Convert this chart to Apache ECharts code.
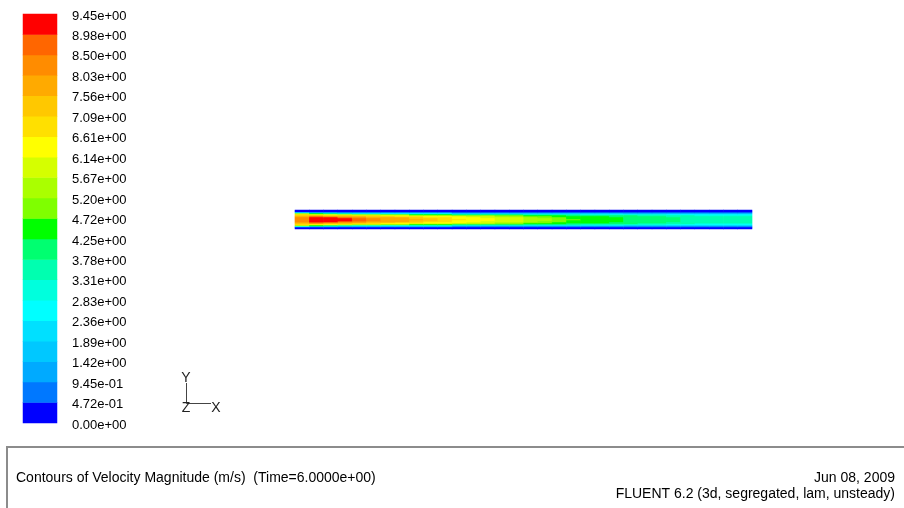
<!DOCTYPE html>
<html>
<head>
<meta charset="utf-8">
<script src="https://cdn.jsdelivr.net/npm/echarts@6/dist/echarts.min.js"></script>
<style>
  html, body { margin: 0; padding: 0; background: #fff; }
  #chart { width: 904px; height: 508px; }
</style>
</head>
<body>
<div id="chart"></div>
<script>
// contour levels (20 bands, 0 .. 9.45 m/s), colours listed from lowest band up
const vMax = 9.45
const levelColors = ['#0000ff', '#0078ff', '#00aaff', '#00c8ff', '#00e0ff',
  '#00ffff', '#00ffdd', '#00ffb0', '#00ff70', '#00ff00',
  '#7fff00', '#aaff00', '#d5ff00', '#ffff00', '#ffe000',
  '#ffc800', '#ffaa00', '#ff8c00', '#ff6600', '#ff0000']
const tickLabels = ['0.00e+00', '4.72e-01', '9.45e-01', '1.42e+00', '1.89e+00',
  '2.36e+00', '2.83e+00', '3.31e+00', '3.78e+00', '4.25e+00', '4.72e+00',
  '5.20e+00', '5.67e+00', '6.14e+00', '6.61e+00', '7.09e+00', '7.56e+00',
  '8.03e+00', '8.50e+00', '8.98e+00', '9.45e+00']

// velocity read along the pipe (32 columns, inlet -> outlet), one array per pixel row
// r0 = wall row ... r9 = centre line; pipe is symmetric about r9
const r0 = [0.2,0.2,0.2,0.2,0.2,0.2,0.2,0.2,0.2,0.2,0.2,0.2,0.2,0.2,0.2,0.2,0.2,0.2,0.2,0.2,0.2,0.2,0.2,0.2,0.2,0.2,0.2,0.2,0.2,0.2,0.2,0.2]
const r1 = [0.3,0.3,0.3,0.3,0.3,0.3,0.3,0.3,0.3,0.3,0.3,0.3,0.3,0.3,0.3,0.3,0.3,0.3,0.3,0.3,0.3,0.3,0.3,0.3,0.3,0.3,0.3,0.3,0.3,0.3,0.3,0.3]
const r2 = [2.5,1.6,1.5,1.4,1.3,1.2,1.1,1.1,1.0,1.0,1.0,0.9,0.9,0.9,0.9,0.9,0.8,0.8,0.8,0.8,0.8,0.8,0.8,0.8,0.7,0.7,0.7,0.7,0.7,0.7,0.7,0.7]
const r3 = [5.4,4.4,4.0,3.6,3.3,3.0,2.8,2.7,2.6,2.5,2.4,2.3,2.3,2.2,2.2,2.1,2.1,2.0,2.0,2.0,1.9,1.9,1.9,1.8,1.8,1.8,1.7,1.7,1.7,1.7,1.6,1.6]
const r4 = [7.0,6.5,6.2,5.8,5.5,5.2,5.0,4.8,4.6,4.5,4.4,4.2,4.1,4.0,3.9,3.8,3.7,3.6,3.5,3.4,3.3,3.2,3.1,3.0,2.9,2.9,2.8,2.8,2.7,2.7,2.7,2.6]
const r5 = [7.5,7.6,7.4,7.2,6.9,6.7,6.5,6.3,6.1,5.9,5.8,5.6,5.4,5.2,5.1,4.9,4.6,4.5,4.4,4.2,4.1,4.0,3.9,3.8,3.6,3.5,3.4,3.4,3.3,3.3,3.3,3.2]
const r6 = [7.9,8.6,8.4,8.0,7.7,7.4,7.2,7.0,6.8,6.6,6.4,6.2,6.0,5.8,5.6,5.4,5.1,4.9,4.7,4.6,4.5,4.4,4.2,4.1,3.9,3.8,3.7,3.6,3.6,3.5,3.5,3.5]
const r7 = [8.1,9.05,9.0,8.7,8.3,8.0,7.8,7.6,7.3,7.0,6.7,6.5,6.3,6.1,5.9,5.7,5.4,5.1,4.9,4.7,4.6,4.5,4.3,4.2,4.0,3.9,3.8,3.7,3.7,3.6,3.6,3.6]
const r8 = [8.3,9.3,9.25,9.0,8.6,8.2,7.9,7.7,7.5,7.2,6.9,6.6,6.4,6.2,6.0,5.8,5.5,5.2,4.9,4.7,4.6,4.5,4.3,4.2,4.0,3.9,3.8,3.75,3.7,3.7,3.65,3.6]
const r9 = [8.4,9.4,9.35,9.1,8.8,8.3,8.0,7.8,7.6,7.3,7.0,6.7,6.5,6.3,6.1,5.9,5.6,5.3,5.0,4.8,4.6,4.5,4.3,4.2,4.0,3.9,3.8,3.75,3.7,3.7,3.65,3.6]

const step = vMax / levelColors.length
const halfRows = [r0, r1, r2, r3, r4, r5, r6, r7, r8, r9]
const pipeRows = halfRows.concat(halfRows.slice(0, 9).reverse())

const pipeData = []
pipeRows.forEach((row, j) => {
  row.forEach((v, i) => { pipeData.push([i, j, v]) })
})
const barData = levelColors.map((c, k) => [0, k, (k + 0.5) * step])

const pieces = levelColors.map((c, k) => ({ min: k * step, max: (k + 1) * step, color: c }))

const font = 'Arial, "Liberation Sans", sans-serif'
const chart = echarts.init(document.getElementById('chart'), null, { renderer: 'canvas' })

const option = {
  backgroundColor: '#ffffff',
  animation: false,
  visualMap: {
    type: 'piecewise',
    show: false,
    pieces: pieces,
    seriesIndex: [0, 1],
    dimension: 2
  },
  grid: [
    { left: 295, top: 210, width: 457, height: 19, outerBoundsMode: 'none' },
    { left: 23, top: 14, width: 34, height: 409, outerBoundsMode: 'none' },
    // label scale sits a couple of pixels lower, as in the original key
    { left: 23, top: 16, width: 34, height: 409, outerBoundsMode: 'none' }
  ],
  xAxis: [
    { type: 'category', gridIndex: 0, data: r0.map((v, i) => i), show: false },
    { type: 'category', gridIndex: 1, data: ['c'], show: false },
    { type: 'category', gridIndex: 2, data: ['c'], show: false }
  ],
  yAxis: [
    { type: 'category', gridIndex: 0, data: pipeRows.map((r, j) => j), show: false },
    { type: 'category', gridIndex: 1, data: levelColors.map((c, k) => k), show: false },
    {
      type: 'value', gridIndex: 2, position: 'right',
      min: 0, max: vMax, interval: step,
      axisLine: { show: false }, axisTick: { show: false }, splitLine: { show: false },
      axisLabel: {
        margin: 15, color: '#000', fontSize: 13, fontFamily: font,
        formatter: v => tickLabels[Math.round(v / step)]
      }
    }
  ],
  series: [
    {
      type: 'heatmap', xAxisIndex: 0, yAxisIndex: 0,
      data: pipeData, itemStyle: { borderWidth: 0 }, emphasis: { disabled: true }
    },
    {
      type: 'heatmap', xAxisIndex: 1, yAxisIndex: 1,
      data: barData, itemStyle: { borderWidth: 0 }, emphasis: { disabled: true }
    }
  ],
  graphic: [
    // axis triad
    { type: 'line', shape: { x1: 186.5, y1: 383, x2: 186.5, y2: 403.5 }, style: { stroke: '#444', lineWidth: 1 } },
    { type: 'line', shape: { x1: 186.5, y1: 403.5, x2: 211, y2: 403.5 }, style: { stroke: '#444', lineWidth: 1 } },
    { type: 'text', x: 186, y: 378, style: { text: 'Y', font: '14px ' + font, fill: '#222', align: 'center', verticalAlign: 'middle' } },
    { type: 'text', x: 186, y: 408, style: { text: 'Z', font: '14px ' + font, fill: '#222', align: 'center', verticalAlign: 'middle' } },
    { type: 'text', x: 216, y: 408, style: { text: 'X', font: '14px ' + font, fill: '#222', align: 'center', verticalAlign: 'middle' } },
    // caption frame
    { type: 'line', shape: { x1: 7, y1: 447, x2: 904, y2: 447 }, style: { stroke: '#8c8c8c', lineWidth: 2 } },
    { type: 'line', shape: { x1: 7, y1: 446, x2: 7, y2: 508 }, style: { stroke: '#8c8c8c', lineWidth: 2 } },
    { type: 'text', x: 16, y: 478, style: { text: 'Contours of Velocity Magnitude (m/s)  (Time=6.0000e+00)', font: '14px ' + font, fill: '#000', align: 'left', verticalAlign: 'middle' } },
    { type: 'text', x: 895, y: 478, style: { text: 'Jun 08, 2009', font: '14px ' + font, fill: '#000', align: 'right', verticalAlign: 'middle' } },
    { type: 'text', x: 895, y: 494, style: { text: 'FLUENT 6.2 (3d, segregated, lam, unsteady)', font: '14px ' + font, fill: '#000', align: 'right', verticalAlign: 'middle' } }
  ]
}

chart.setOption(option)
</script>
</body>
</html>
